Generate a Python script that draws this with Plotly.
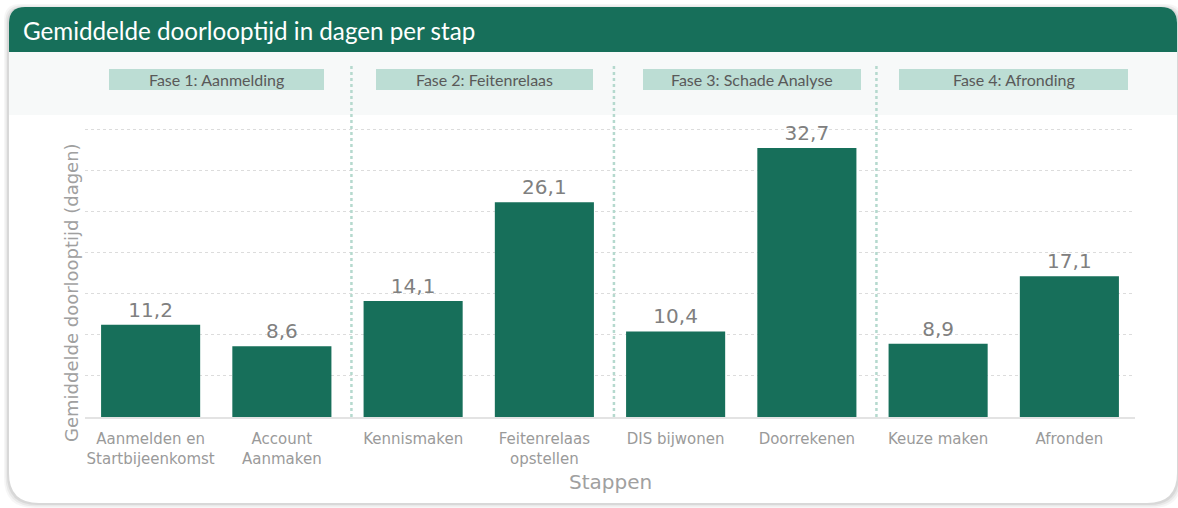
import plotly.graph_objects as go

# data
steps = ["Aanmelden en<br>Startbijeenkomst", "Account<br>Aanmaken", "Kennismaken",
         "Feitenrelaas<br>opstellen", "DIS bijwonen", "Doorrekenen", "Keuze maken", "Afronden"]
doorlooptijd = [11.2, 8.6, 14.1, 26.1, 10.4, 32.7, 8.9, 17.1]
phases = ["Fase 1: Aanmelding", "Fase 2: Feitenrelaas", "Fase 3: Schade Analyse", "Fase 4: Afronding"]
phase_ends = [1, 3, 5]  # index of last step in phase 1..3

W, H = 1178, 508
GREEN = "#176f5a"


def px(x):
    return x / W


def py(y):
    return 1 - y / H


def rounded_path(x0, y0, x1, y1, rt, rb):
    # pixel box -> paper path, rt = top radius, rb = bottom radius
    pts = [
        f"M {px(x0 + rt)},{py(y0)}",
        f"L {px(x1 - rt)},{py(y0)}",
        f"Q {px(x1)},{py(y0)} {px(x1)},{py(y0 + rt)}",
        f"L {px(x1)},{py(y1 - rb)}",
        f"Q {px(x1)},{py(y1)} {px(x1 - rb)},{py(y1)}",
        f"L {px(x0 + rb)},{py(y1)}",
        f"Q {px(x0)},{py(y1)} {px(x0)},{py(y1 - rb)}",
        f"L {px(x0)},{py(y0 + rt)}",
        f"Q {px(x0)},{py(y0)} {px(x0 + rt)},{py(y0)}",
        "Z",
    ]
    return " ".join(pts)


fig = go.Figure()
fig.add_trace(go.Bar(
    x=list(range(len(steps))), y=doorlooptijd,
    marker=dict(color=GREEN, line=dict(width=0)),
    width=0.755,
    texttemplate="%{y:.1f}", textposition="outside",
    textfont=dict(family="DejaVu Sans", size=20, color="#808080"),
    cliponaxis=False, hoverinfo="skip",
))

shapes = []
# card shadow + card
for i, op in enumerate([0.035, 0.05, 0.07]):
    d = 5 - i * 1.5
    shapes.append(dict(type="path", xref="paper", yref="paper", layer="below",
                       path=rounded_path(9 - d, 7 - d + 2, 1177 + d, 503 + d, 16, 30),
                       fillcolor=f"rgba(0,0,0,{op})", line=dict(width=0)))
shapes.append(dict(type="path", xref="paper", yref="paper", layer="below",
                   path=rounded_path(9, 7, 1177, 503, 16, 30),
                   fillcolor="white", line=dict(width=0)))
# title bar
shapes.append(dict(type="path", xref="paper", yref="paper", layer="below",
                   path=rounded_path(9, 7, 1177, 52, 16, 0),
                   fillcolor=GREEN, line=dict(width=0)))
# phase band
shapes.append(dict(type="rect", xref="paper", yref="paper", layer="below",
                   x0=px(9), x1=px(1177), y0=py(115), y1=py(52),
                   fillcolor="#f7f9f9", line=dict(width=0)))
# phase label boxes
box_px = [(109, 324), (376, 593), (643, 861), (899, 1128)]
annotations = []
for name, (bx0, bx1) in zip(phases, box_px):
    shapes.append(dict(type="rect", xref="paper", yref="paper", layer="below",
                       x0=px(bx0), x1=px(bx1), y0=py(90), y1=py(69),
                       fillcolor="#bcddd4", line=dict(width=0)))
    annotations.append(dict(x=px((bx0 + bx1) / 2), y=py(79.5), xref="paper", yref="paper",
                            text=name, showarrow=False, xanchor="center", yanchor="middle",
                            font=dict(family="Lato", size=16, color="#595959")))
# phase separators
for e in phase_ends:
    shapes.append(dict(type="line", xref="x", yref="paper", layer="above",
                       x0=e + 0.53, x1=e + 0.53, y0=py(417), y1=py(66),
                       line=dict(color="#b5d9ce", width=2.5, dash="dot")))

annotations.append(dict(x=px(21), y=py(30), xref="paper", yref="paper",
                        text="Gemiddelde doorlooptijd in dagen per stap", showarrow=False,
                        xanchor="left", yanchor="middle",
                        font=dict(family="Lato", size=24.2, color="white")))
annotations.append(dict(x=px(71), y=py(293), xref="paper", yref="paper",
                        text="Gemiddelde doorlooptijd (dagen)", showarrow=False, textangle=-90,
                        xanchor="center", yanchor="middle",
                        font=dict(family="DejaVu Sans", size=18, color="#a0a0a0")))
annotations.append(dict(x=px(610), y=py(482), xref="paper", yref="paper",
                        text="Stappen", showarrow=False, xanchor="center", yanchor="middle",
                        font=dict(family="DejaVu Sans", size=20, color="#a0a0a0")))

fig.update_layout(
    width=W, height=H,
    margin=dict(l=0, r=0, t=0, b=0),
    paper_bgcolor="white", plot_bgcolor="rgba(0,0,0,0)",
    separators=",.",
    showlegend=False,
    shapes=shapes, annotations=annotations,
    xaxis=dict(domain=[px(85), px(1135)], range=[-0.5, 7.5],
               tickmode="array", tickvals=list(range(len(steps))), ticktext=steps,
               tickfont=dict(family="DejaVu Sans", size=15, color="#9a9a9a"),
               ticklabelstandoff=7,
               showgrid=False, showline=True, linecolor="#e3e3e3", linewidth=2,
               ticks="", zeroline=False, fixedrange=True),
    yaxis=dict(domain=[py(417), py(120)], range=[0, 36.1],
               tickvals=[5, 10, 15, 20, 25, 30, 35], showticklabels=False,
               showgrid=True, gridcolor="#dcdcdc", gridwidth=1, griddash="dot",
               zeroline=False, showline=False, ticks="", fixedrange=True),
)

# page has a default body margin; drop it so the figure sits at 0,0
fig.write_html("out.html", config={"displayModeBar": False},
               post_script="document.body.style.margin='0';")
